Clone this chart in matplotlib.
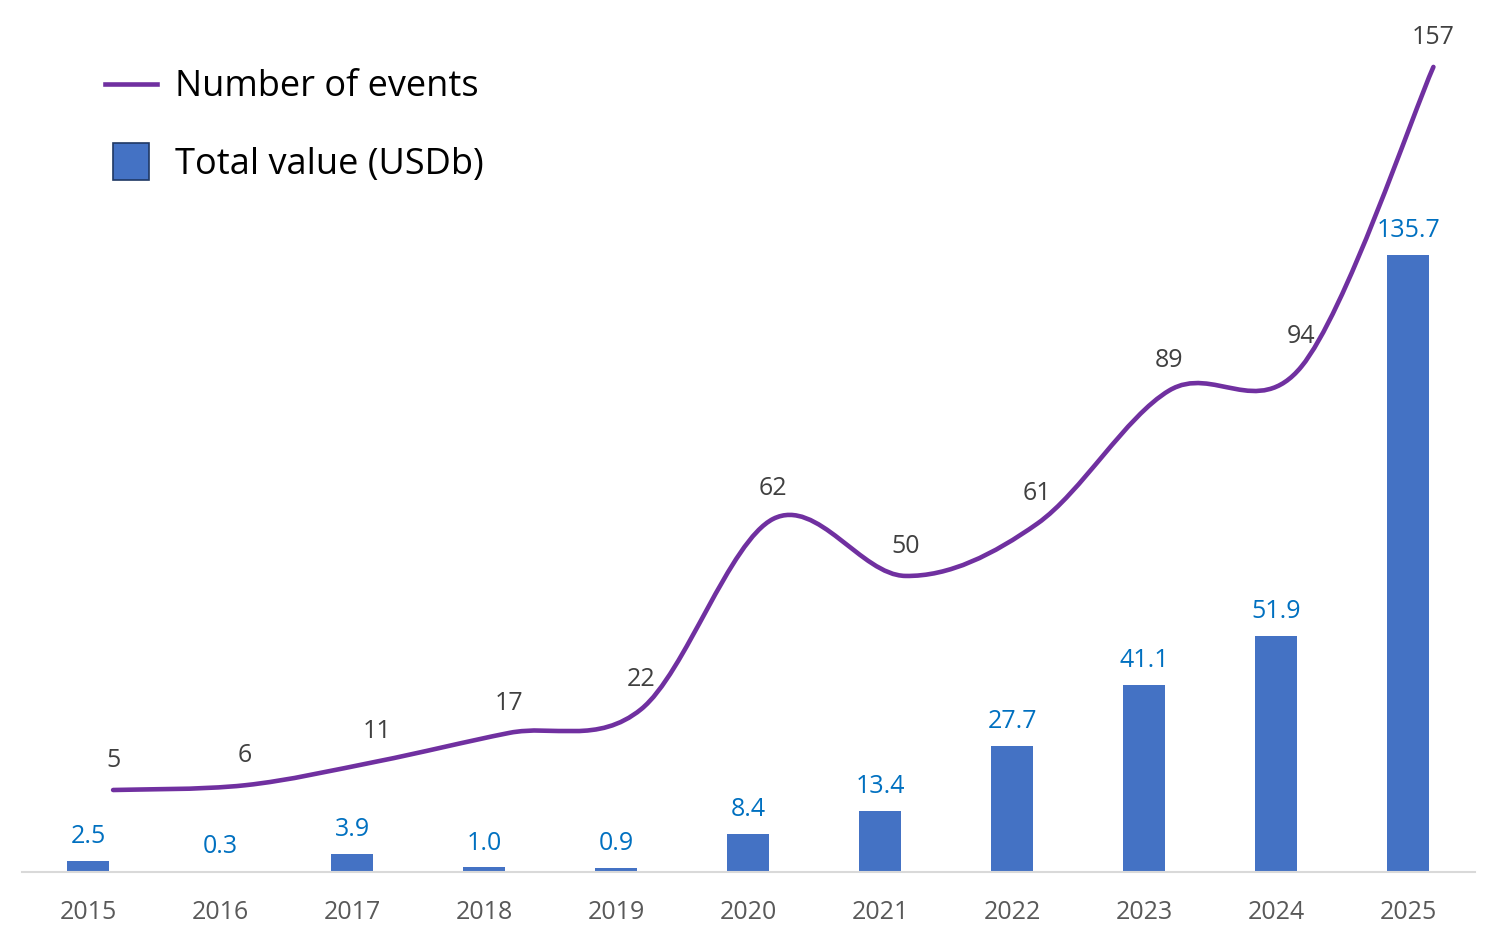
import matplotlib
matplotlib.use('Agg')

import matplotlib.pyplot as plt
import numpy as np
from matplotlib.path import Path
from matplotlib.patches import PathPatch, Rectangle
from matplotlib.lines import Line2D

plt.rcParams['font.family'] = ['Open Sans', 'DejaVu Sans']

years = ['2015', '2016', '2017', '2018', '2019', '2020', '2021', '2022', '2023', '2024', '2025']
total_value = [2.5, 0.3, 3.9, 1.0, 0.9, 8.4, 13.4, 27.7, 41.1, 51.9, 135.7]
num_events = [5, 6, 11, 17, 22, 62, 50, 61, 89, 94, 157]

bar_color = '#4472C4'
line_color = '#7030A0'

fig = plt.figure(figsize=(15, 9.42), dpi=100)
ax = fig.add_axes([22 / 1500, 1 - 872 / 942, (1475 - 22) / 1500, (872 - 20) / 942])
ax2 = ax.twinx()

x = np.arange(len(years))
ax.bar(x, total_value, width=0.32, color=bar_color, zorder=2)
for xi, v in zip(x, total_value):
    ax.annotate(f'{v:.1f}', (xi, v), xytext=(0, 17.5), textcoords='offset points',
                ha='center', va='center', fontsize=18, color='#0070C0')

# smoothed line (Excel-like), drawn as cubic Bezier segments through the data points
lx = x + 0.19
ly = np.array(num_events, dtype=float)
pts = np.column_stack([lx, ly])
ext = np.vstack([pts[0], pts, pts[-1]])
verts = [tuple(pts[0])]
codes = [Path.MOVETO]
for i in range(len(pts) - 1):
    p0, p1, p2, p3 = ext[i], ext[i + 1], ext[i + 2], ext[i + 3]
    c1 = p1 + (p2 - p0) / 6
    c2 = p2 - (p3 - p1) / 6
    verts += [tuple(c1), tuple(c2), tuple(p2)]
    codes += [Path.CURVE4] * 3
ax2.add_patch(PathPatch(Path(verts, codes), facecolor='none', edgecolor=line_color,
                        lw=3.3, capstyle='round', zorder=3))
for xi, v in zip(lx, num_events):
    ax2.annotate(str(v), (xi, v), xytext=(0, 21.5), textcoords='offset points',
                 ha='center', va='center', fontsize=18, color='#404040')

ax.set_xlim(-0.5, 10.505)
ax.set_ylim(0, 852 / 4.547)
ax2.set_ylim(5 - 82 / 4.757, 5 + 770 / 4.757)

ax.set_xticks(x)
ax.set_xticklabels(years, fontsize=18, color='#595959')
ax.tick_params(axis='x', length=0, pad=20)
ax.set_yticks([])
ax2.set_yticks([])
for a in (ax, ax2):
    for s in ['top', 'left', 'right']:
        a.spines[s].set_visible(False)
ax.spines['bottom'].set_color('#D9D9D9')
ax.spines['bottom'].set_linewidth(1.5)
ax2.spines['bottom'].set_visible(False)

# legend, drawn in figure pixel coordinates
W, H = 1500, 942
fig.add_artist(Line2D([105 / W, 157 / W], [1 - 84 / H, 1 - 84 / H], color=line_color,
                      lw=3.3, transform=fig.transFigure))
fig.add_artist(Rectangle((113 / W, 1 - 180 / H), 36 / W, 37 / H, facecolor=bar_color,
                         edgecolor='#1F3864', lw=1.2, transform=fig.transFigure))
fig.text(175 / W, 1 - 87 / H, 'Number of events', fontsize=26, va='center', ha='left')
fig.text(175 / W, 1 - 165 / H, 'Total value (USDb)', fontsize=26, va='center', ha='left')

plt.savefig('out.png', dpi=100)
